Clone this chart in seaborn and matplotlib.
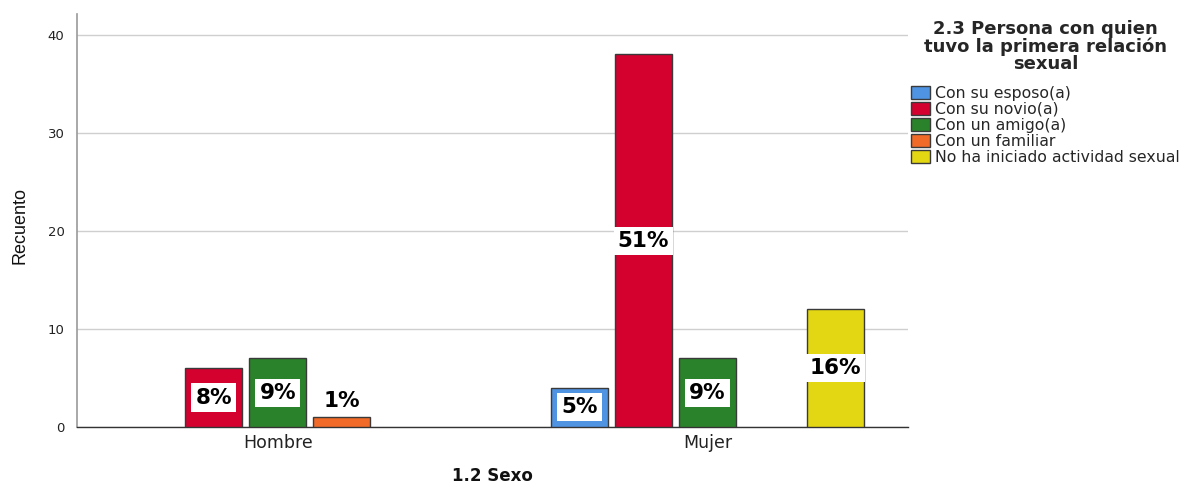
import matplotlib
matplotlib.use("Agg")
import matplotlib.pyplot as plt
import seaborn as sns
import pandas as pd
from matplotlib.patches import Patch

sexo = ["Hombre", "Mujer"]
grupos = ["Con su esposo(a)", "Con su novio(a)", "Con un amigo(a)",
          "Con un familiar", "No ha iniciado actividad sexual"]
hombre = [0, 6, 7, 1, 0]
mujer = [4, 38, 7, 0, 12]
etiquetas_h = ["", "8%", "9%", "1%", ""]
etiquetas_m = ["5%", "51%", "9%", "", "16%"]
colores = ["#4f94e3", "#d4002e", "#2a832a", "#f26a27", "#e3d612"]

rows = []
for g, v in zip(grupos, hombre):
    rows.append(("Hombre", g, v))
for g, v in zip(grupos, mujer):
    rows.append(("Mujer", g, v))
df = pd.DataFrame(rows, columns=["sexo", "grupo", "n"])

sns.set_style("white")
plt.rcParams["font.family"] = ["DejaVu Sans"]

fig = plt.figure(figsize=(11.96, 4.83), dpi=100)
ax = fig.add_axes([77/1196, 1 - 427/483, (908-77)/1196, (427-14)/483])

sns.barplot(data=df, x="sexo", y="n", hue="grupo", hue_order=grupos,
            palette=colores, saturation=1, width=0.744, gap=0.11, ax=ax,
            edgecolor="#3a3a3a", linewidth=1.0, legend=False, zorder=3)

for p in ax.patches:
    if p.get_height() == 0:
        p.set_visible(False)

ax.set_ylim(0, 42.1)
ax.set_xlim(-0.467, 1.467)
ax.set_yticks([0, 10, 20, 30, 40])
ax.yaxis.grid(True, color="#cfcfcf", linewidth=1.0, zorder=0)
ax.set_axisbelow(True)
for s in ["top", "right"]:
    ax.spines[s].set_visible(False)
ax.spines["left"].set_color("#999999")
ax.spines["left"].set_linewidth(1.2)
ax.spines["bottom"].set_color("#333333")
ax.spines["bottom"].set_linewidth(1.0)
ax.tick_params(axis="y", length=0, labelsize=9.5, colors="#222222", pad=9)
ax.tick_params(axis="x", length=0, labelsize=12.5, colors="#222222", pad=5)

ax.set_ylabel("Recuento", fontsize=13, family=["Liberation Sans Narrow", "Liberation Sans"],
              color="#111111", va="center")
ax.yaxis.set_label_coords((20 - 77) / 831, (427 - 225) / 413)
ax.set_xlabel("1.2 Sexo", fontsize=12, fontweight="bold", color="#111111", va="center")
ax.xaxis.set_label_coords((492 - 77) / 831, (427 - 476) / 413)

for cont, lab_h, lab_m in zip(ax.containers, etiquetas_h, etiquetas_m):
    for bar, lab in zip(cont.patches, [lab_h, lab_m]):
        if not lab:
            continue
        h = bar.get_height()
        y = h / 2 if h >= 2 else 2.6
        ax.text(bar.get_x() + bar.get_width() / 2, y, lab, ha="center", va="center",
                fontsize=15.5, fontweight="bold", color="black", zorder=5,
                bbox=dict(facecolor="white", edgecolor="none", pad=3))

handles = [Patch(facecolor=c, edgecolor="#3a3a3a", label=g) for c, g in zip(colores, grupos)]
leg = fig.legend(handles=handles, loc="upper left", bbox_to_anchor=(911/1196, 1 - 20/483),
                 frameon=False, fontsize=11.3,
                 title="2.3 Persona con quien\ntuvo la primera relación\nsexual",
                 title_fontproperties={"weight": "bold", "size": 13},
                 handlelength=1.2, handleheight=0.9, handletextpad=0.35, labelspacing=0.07,
                 borderaxespad=0, borderpad=0)
leg._legend_box.align = "center"
leg._legend_box.sep = 9
leg.get_title().set_multialignment("center")
leg.get_title().set_linespacing(0.95)

fig.savefig("out.png", dpi=100)
